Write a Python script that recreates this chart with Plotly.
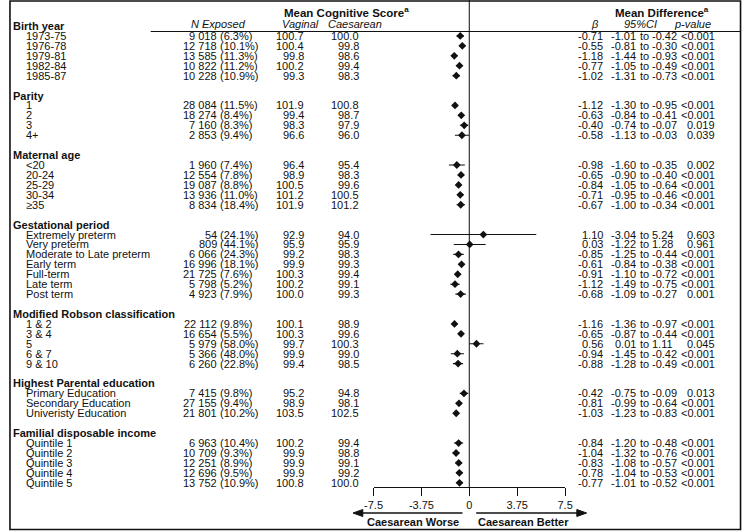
import plotly.graph_objects as go

W, H = 750, 531

# ---- data -------------------------------------------------------------
SECTIONS = [
    ("Birth year", ["1973-75", "1976-78", "1979-81", "1982-84", "1985-87"]),
    ("Parity", ["1", "2", "3", "4+"]),
    ("Maternal age", ["<20", "20-24", "25-29", "30-34", "≥35"]),
    ("Gestational period", ["Extremely preterm", "Very preterm", "Moderate to Late preterm",
                            "Early term", "Full-term", "Late term", "Post term"]),
    ("Modified Robson classification", ["1 & 2", "3 & 4", "5", "6 & 7", "9 & 10"]),
    ("Highest Parental education", ["Primary Education", "Secondary Education",
                                    "Univeristy Education"]),
    ("Familial disposable income", ["Quintile 1", "Quintile 2", "Quintile 3",
                                    "Quintile 4", "Quintile 5"]),
]

n_exposed = [9018, 12718, 13585, 10822, 10228,
             28084, 18274, 7160, 2853,
             1960, 12554, 19087, 13936, 8834,
             54, 809, 6066, 16996, 21725, 5798, 4923,
             22112, 16654, 5979, 5366, 6260,
             7415, 27155, 21801,
             6963, 10709, 12251, 12696, 13752]
pct_exposed = [6.3, 10.1, 11.3, 11.2, 10.9,
               11.5, 8.4, 8.3, 9.4,
               7.4, 7.8, 8.8, 11.0, 18.4,
               24.1, 44.1, 24.3, 18.1, 7.6, 5.2, 7.9,
               9.8, 5.5, 58.0, 48.0, 22.8,
               9.8, 9.4, 10.2,
               10.4, 9.3, 8.9, 9.5, 10.9]
vaginal = [100.7, 100.4, 99.8, 100.2, 99.3,
           101.9, 99.4, 98.3, 96.6,
           96.4, 98.9, 100.5, 101.2, 101.9,
           92.9, 95.9, 99.2, 99.9, 100.3, 100.2, 100.0,
           100.1, 100.3, 99.7, 99.9, 99.4,
           95.2, 98.9, 103.5,
           100.2, 99.9, 99.9, 99.9, 100.8]
caesarean = [100.0, 99.8, 98.6, 99.4, 98.3,
             100.8, 98.7, 97.9, 96.0,
             95.4, 98.3, 99.6, 100.5, 101.2,
             94.0, 95.9, 98.3, 99.3, 99.4, 99.1, 99.3,
             98.9, 99.6, 100.3, 99.0, 98.5,
             94.8, 98.1, 102.5,
             99.4, 98.8, 99.1, 99.2, 100.0]
beta = [-0.71, -0.55, -1.18, -0.77, -1.02,
        -1.12, -0.63, -0.40, -0.58,
        -0.98, -0.65, -0.84, -0.71, -0.67,
        1.10, 0.03, -0.85, -0.61, -0.91, -1.12, -0.68,
        -1.16, -0.65, 0.56, -0.94, -0.88,
        -0.42, -0.81, -1.03,
        -0.84, -1.04, -0.83, -0.78, -0.77]
ci_low = [-1.01, -0.81, -1.44, -1.05, -1.31,
          -1.30, -0.84, -0.74, -1.13,
          -1.60, -0.90, -1.05, -0.95, -1.00,
          -3.04, -1.22, -1.25, -0.84, -1.10, -1.49, -1.09,
          -1.36, -0.87, 0.01, -1.45, -1.28,
          -0.75, -0.99, -1.23,
          -1.20, -1.32, -1.08, -1.04, -1.01]
ci_high = [-0.42, -0.30, -0.93, -0.49, -0.73,
           -0.95, -0.41, -0.07, -0.03,
           -0.35, -0.40, -0.64, -0.46, -0.34,
           5.24, 1.28, -0.44, -0.38, -0.72, -0.75, -0.27,
           -0.97, -0.44, 1.11, -0.42, -0.49,
           -0.09, -0.64, -0.83,
           -0.48, -0.76, -0.57, -0.53, -0.52]
p_value = ["<0.001", "<0.001", "<0.001", "<0.001", "<0.001",
           "<0.001", "<0.001", "0.019", "0.039",
           "0.002", "<0.001", "<0.001", "<0.001", "<0.001",
           "0.603", "0.961", "<0.001", "<0.001", "<0.001", "<0.001", "0.001",
           "<0.001", "<0.001", "0.045", "<0.001", "<0.001",
           "0.013", "<0.001", "<0.001",
           "<0.001", "<0.001", "<0.001", "<0.001", "<0.001"]

x_ticks = [-7.5, -3.75, 0, 3.75, 7.5]
x_ticktext = ["-7.5", "-3.75", "0", "3.75", "7.5"]

# ---- row layout -------------------------------------------------------
ROW0, ROWH = 26, 9.93   # pixel centre of first row, row pitch


def ypx(p):
    return -(p - ROW0) / ROWH


def xp(p):
    return p / W


def yp(p):
    return (H - p) / H


header_rows, item_rows, item_labels = [], [], []
r = 0
for title, items in SECTIONS:
    header_rows.append((title, r))
    r += 1
    for lab in items:
        item_labels.append(lab)
        item_rows.append(r)
        r += 1
    r += 1
item_y = [-v for v in item_rows]

AX_PX = 487                       # pixel row of x axis line
y_dom0 = yp(AX_PX)

fig = go.Figure()

# forest plot
fig.add_trace(go.Scatter(
    x=beta, y=item_y, mode="markers",
    marker=dict(symbol="diamond", size=6, color="#111"),
    error_x=dict(type="data", symmetric=False,
                 array=[h - b for h, b in zip(ci_high, beta)],
                 arrayminus=[b - l for b, l in zip(beta, ci_low)],
                 width=0, thickness=1.1, color="#111"),
    showlegend=False, hoverinfo="skip",
))

ann = []


def txt(x, y, s, anchor="left", size=11, yref="y"):
    ann.append(dict(x=xp(x), xref="paper", y=y, yref=yref, text=s,
                    showarrow=False, xanchor=anchor, yanchor="middle",
                    borderpad=0, font=dict(size=size)))


# column headers
txt(345, ypx(12), "<b>Mean Cognitive Score<sup>a</sup></b>", "center", 11.5)
txt(668, ypx(12), "<b>Mean Difference<sup>a</sup></b>", "center", 11.5)
hy = ypx(24)
txt(214, hy, "<i>N Exposed</i>", "center")
txt(298, hy, "<i>Vaginal</i>", "center")
txt(354, hy, "<i>Caesarean</i>", "center")
txt(600, hy, "<i>β</i>", "center")
txt(646, hy, "<i>95%CI</i>", "center")
txt(699, hy, "<i>p-value</i>", "center")

for title, rr in header_rows:
    txt(3, -rr, f"<b>{title}</b>")

for i, y in enumerate(item_y):
    txt(16, y, item_labels[i])
    txt(214, y, f"{n_exposed[i]:,}".replace(",", " "), "right")
    txt(215, y, f"({pct_exposed[i]:.1f}%)")
    txt(303, y, f"{vaginal[i]:.1f}", "right")
    txt(359, y, f"{caesarean[i]:.1f}", "right")
    txt(609, y, f"{beta[i]:.2f}", "right")
    txt(643, y, f"{ci_low[i]:.2f}", "right")
    txt(650.5, y, "to", "center")
    txt(657, y, f"{ci_high[i]:.2f}")
    txt(723, y, p_value[i], "right")

# direction labels
txt(413, yp(522), "<b>Caesarean Worse</b>", "center", 11, "paper")
txt(526, yp(522), "<b>Caesarean Better</b>", "center", 11, "paper")

AR_Y = 513
line_k = dict(color="#111", width=1.6)


def tri(tip, base):
    return (f"M {xp(tip)},{yp(AR_Y)} L {xp(base)},{yp(AR_Y - 3.5)} "
            f"L {xp(base)},{yp(AR_Y + 3.5)} Z")


shapes = [
    # outer frame
    dict(type="rect", xref="paper", yref="paper", x0=xp(1), x1=xp(748.5),
         y0=yp(529.5), y1=yp(1), line=dict(color="#111", width=1.6)),
    # header underline
    dict(type="line", xref="paper", yref="paper", x0=xp(145), x1=xp(748),
         y0=yp(31.5), y1=yp(31.5), line=dict(color="#111", width=1)),
    # null line
    dict(type="line", xref="x", yref="paper", x0=0, x1=0, y0=y_dom0, y1=1,
         line=dict(color="#333", width=1.2), layer="below"),
    # direction arrows
    dict(type="line", xref="paper", yref="paper", x0=xp(360), x1=xp(464),
         y0=yp(AR_Y), y1=yp(AR_Y), line=line_k),
    dict(type="path", xref="paper", yref="paper", path=tri(352, 362),
         fillcolor="#111", line=dict(color="#111", width=1)),
    dict(type="line", xref="paper", yref="paper", x0=xp(478), x1=xp(583),
         y0=yp(AR_Y), y1=yp(AR_Y), line=line_k),
    dict(type="path", xref="paper", yref="paper", path=tri(591, 581),
         fillcolor="#111", line=dict(color="#111", width=1)),
]

fig.update_layout(
    width=W, height=H,
    margin=dict(l=0, r=0, t=0, b=0),
    paper_bgcolor="white", plot_bgcolor="white",
    font=dict(family="Liberation Sans, Arial, sans-serif", size=11, color="#111"),
    annotations=ann, shapes=shapes,
    xaxis=dict(domain=[xp(373), xp(569)], range=[-7.5, 7.5],
               tickvals=x_ticks, ticktext=x_ticktext,
               ticks="outside", ticklen=8, tickwidth=1.2, tickcolor="#111",
               showline=True, linewidth=1.2, linecolor="#111",
               showgrid=False, zeroline=False, fixedrange=True,
               tickfont=dict(size=11, color="#111")),
    yaxis=dict(domain=[y_dom0, 1], range=[ypx(AX_PX), ypx(0)],
               visible=False, showgrid=False, zeroline=False, fixedrange=True),
    showlegend=False,
)

fig.write_html("out.html", config={"displayModeBar": False},
               post_script="document.body.style.margin='0';")
